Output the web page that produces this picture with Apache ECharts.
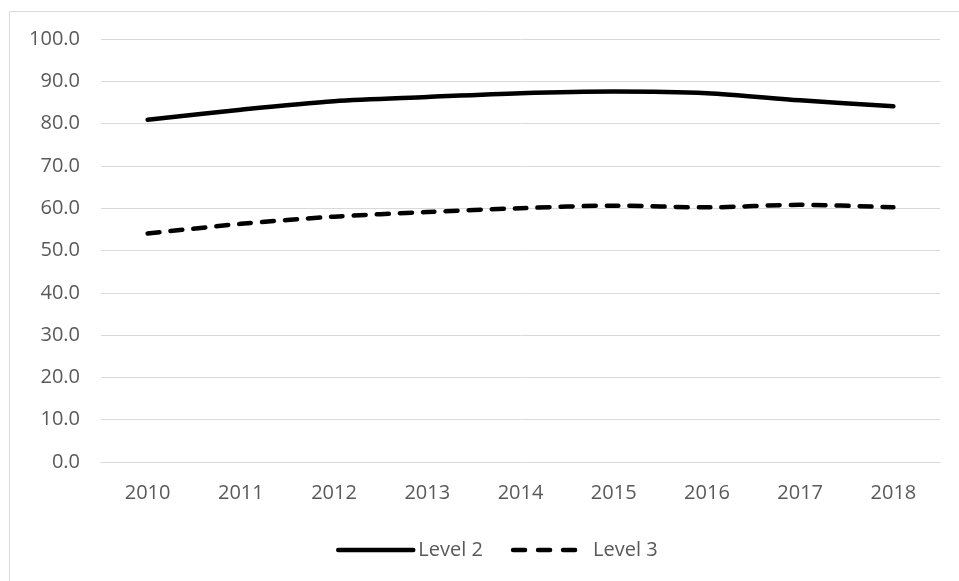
<!DOCTYPE html>
<html>
<head>
<meta charset="utf-8">
<script src="https://cdn.jsdelivr.net/npm/echarts@6/dist/echarts.min.js"></script>
<style>html,body{margin:0;padding:0;background:#fff}#c{width:959px;height:581px}</style>
</head>
<body>
<div id="c"></div>
<script>
const categories = ['2010','2011','2012','2013','2014','2015','2016','2017','2018'];
const level2 = [80.9, 83.3, 85.3, 86.3, 87.2, 87.6, 87.2, 85.5, 84.1];
const level3 = [54.0, 56.3, 58.0, 59.1, 60.0, 60.6, 60.2, 60.8, 60.2];
const seriesNames = ['Level 2', 'Level 3'];

const chart = echarts.init(document.getElementById('c'));
const font = "'Open Sans', 'Liberation Sans', sans-serif";
const dash = [12, 11];
chart.setOption({
  animation: false,
  backgroundColor: '#fff',
  graphic: [{
    type: 'rect', left: 7, top: 9, z: -1,
    shape: { width: 1000, height: 1000 },
    style: { fill: 'none', stroke: '#d9d9d9', lineWidth: 1 }
  }],
  grid: { left: 101, right: 19, top: 39, bottom: 119 },
  legend: {
    data: [
      { name: seriesNames[0], lineStyle: { width: 4.5, type: 'solid', cap: 'round' } },
      { name: seriesNames[1], lineStyle: { width: 4.5, type: [12, 13], cap: 'round' } }
    ],
    left: 331, top: 535,
    itemWidth: 75, itemHeight: 24, itemGap: 28,
    itemStyle: { opacity: 0 },
    textStyle: { color: '#595959', fontSize: 20, fontFamily: font }
  },
  xAxis: {
    type: 'category', data: categories, boundaryGap: true,
    axisLine: { show: true, lineStyle: { color: '#d9d9d9', width: 1 } },
    axisTick: { show: false },
    axisLabel: { color: '#595959', fontSize: 20, fontFamily: font, margin: 21 }
  },
  yAxis: {
    type: 'value', min: 0, max: 100, interval: 10,
    axisLine: { show: false }, axisTick: { show: false },
    splitLine: { lineStyle: { color: '#d9d9d9', width: 1 } },
    axisLabel: { color: '#595959', fontSize: 20, fontFamily: font, margin: 21,
      formatter: v => v.toFixed(1) }
  },
  series: [
    { name: seriesNames[0], type: 'line', data: level2, smooth: 0.3, symbol: 'none',
      lineStyle: { color: '#000', width: 4.5, cap: 'round', join: 'round' },
      itemStyle: { color: '#000' } },
    { name: seriesNames[1], type: 'line', data: level3, smooth: 0.3, symbol: 'none',
      lineStyle: { color: '#000', width: 4.5, type: dash, cap: 'round', join: 'round' },
      itemStyle: { color: '#000' } }
  ]
});
</script>
</body>
</html>
